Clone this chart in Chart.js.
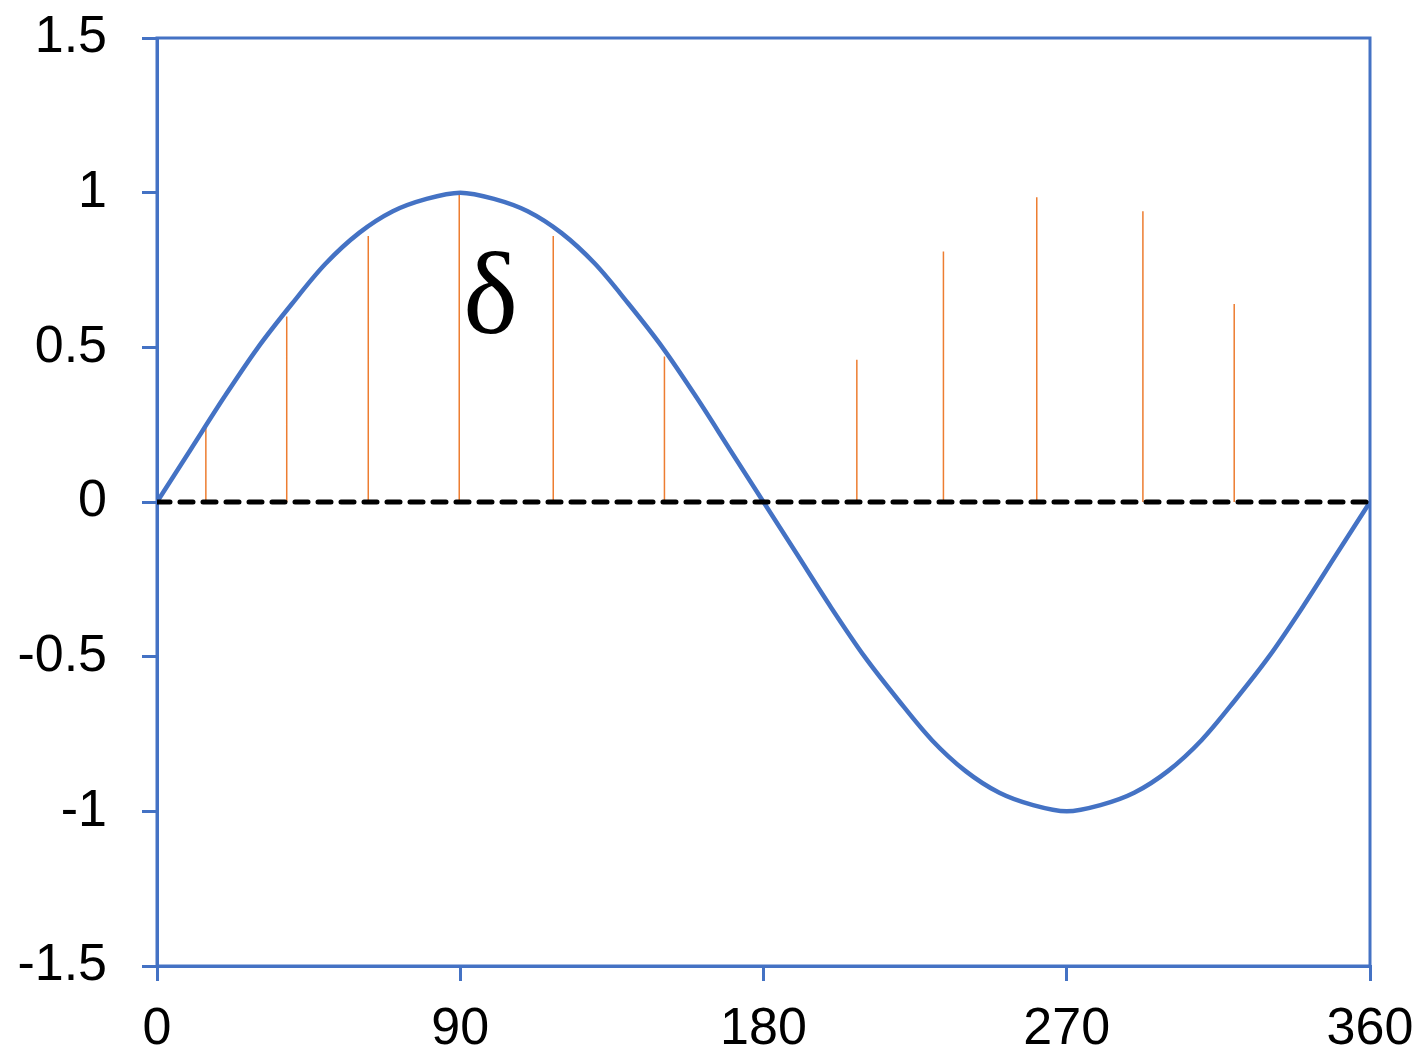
<!DOCTYPE html>
<html>
<head>
<meta charset="utf-8">
<script src="https://cdn.jsdelivr.net/npm/chart.js@4/dist/chart.umd.min.js"></script>
<style>
  html, body { margin: 0; padding: 0; background: #fff; }
  canvas { display: block; }
</style>
</head>
<body>
<canvas id="chart" width="1422" height="1054"></canvas>
<script>
// blue curve, read every 10 degrees
const curveX = [0, 10, 20, 30, 40, 50, 60, 70, 80, 90, 100, 110, 120, 130, 140, 150, 160, 170, 180,
  190, 200, 210, 220, 230, 240, 250, 260, 270, 280, 290, 300, 310, 320, 330, 340, 350, 360];
const curveY = [0, 0.17, 0.34, 0.5, 0.64, 0.77, 0.87, 0.94, 0.98, 1, 0.98, 0.94, 0.87, 0.77, 0.64, 0.5, 0.34, 0.17, 0,
  -0.17, -0.34, -0.5, -0.64, -0.77, -0.87, -0.94, -0.98, -1, -0.98, -0.94, -0.87, -0.77, -0.64, -0.5, -0.34, -0.17, 0];

// orange stems
const stemX = [14.5, 38.5, 62.7, 89.7, 117.6, 150.6, 207.7, 233.4, 261.1, 292.6, 319.7];
const stemY = [0.25, 0.6, 0.86, 1, 0.86, 0.47, 0.46, 0.81, 0.985, 0.94, 0.64];

const baseX = [0, 360];
const baseY = [0, 0];

const xTicks = [0, 90, 180, 270, 360];
const yTicks = [-1.5, -1, -0.5, 0, 0.5, 1, 1.5];

const deltaText = "δ";
const deltaAt = { x: 99, y: 0.545 };

const blue = "#4472C4";
const orange = "#ED7D31";

const stemData = [];
stemX.forEach((x, i) => {
  stemData.push({ x: x, y: 0 });
  stemData.push({ x: x, y: stemY[i] });
  stemData.push({ x: x, y: null });
});

const framePlugin = {
  id: "frame",
  beforeDatasetsDraw(chart) {
    const a = chart.chartArea;
    const ctx = chart.ctx;
    ctx.save();
    ctx.strokeStyle = blue;
    ctx.lineWidth = 3;
    ctx.strokeRect(a.left, a.top, a.right - a.left, a.bottom - a.top);
    ctx.restore();
  },
  afterDatasetsDraw(chart) {
    const ctx = chart.ctx;
    const px = chart.scales.x.getPixelForValue(deltaAt.x);
    const py = chart.scales.y.getPixelForValue(deltaAt.y);
    ctx.save();
    ctx.fillStyle = "#000";
    ctx.font = "116px 'Liberation Serif', 'DejaVu Serif', serif";
    ctx.textAlign = "center";
    ctx.textBaseline = "alphabetic";
    ctx.fillText(deltaText, px, py);
    ctx.restore();
  }
};

const tickFont = { family: "'Liberation Sans', Arial, sans-serif", size: 52 };

new Chart(document.getElementById("chart"), {
  type: "line",
  data: {
    datasets: [
      {
        label: "zero",
        data: baseX.map((x, i) => ({ x: x, y: baseY[i] })),
        borderColor: "#000",
        borderWidth: 5,
        borderDash: [13, 10],
        borderCapStyle: "round",
        pointRadius: 0,
      },
      {
        label: "sin",
        data: curveX.map((x, i) => ({ x: x, y: curveY[i] })),
        borderColor: blue,
        borderWidth: 4.5,
        tension: 0.33,
        pointRadius: 0,
      },
      {
        label: "stems",
        data: stemData,
        borderColor: orange,
        borderWidth: 1.5,
        spanGaps: false,
        pointRadius: 0,
      },
    ],
  },
  options: {
    responsive: false,
    animation: false,
    layout: { padding: { top: 38, right: 52, left: 0, bottom: 0 } },
    plugins: {
      legend: { display: false },
      tooltip: { enabled: false },
    },
    scales: {
      x: {
        type: "linear",
        min: 0,
        max: 360,
        afterFit: (s) => { s.height = 88; s.paddingLeft = 0; s.paddingRight = 0; },
        afterBuildTicks: (s) => { s.ticks = xTicks.map((v) => ({ value: v })); },
        ticks: {
          color: "#000",
          font: tickFont,
          padding: 17,
          maxRotation: 0,
          autoSkip: false,
          callback: (v) => String(v),
        },
        grid: {
          drawOnChartArea: false,
          drawTicks: true,
          tickLength: 15,
          color: blue,
          lineWidth: 3,
        },
        border: { color: blue, width: 3 },
      },
      y: {
        type: "linear",
        min: -1.5,
        max: 1.5,
        afterFit: (s) => { s.width = 157; s.paddingTop = 0; s.paddingBottom = 0; },
        afterBuildTicks: (s) => { s.ticks = yTicks.map((v) => ({ value: v })); },
        ticks: {
          color: "#000",
          font: tickFont,
          padding: 35,
          autoSkip: false,
          callback: (v) => String(v),
        },
        grid: {
          drawOnChartArea: false,
          drawTicks: true,
          tickLength: 15,
          color: blue,
          lineWidth: 3,
        },
        border: { color: blue, width: 3 },
      },
    },
  },
  plugins: [framePlugin],
});
</script>
</body>
</html>
